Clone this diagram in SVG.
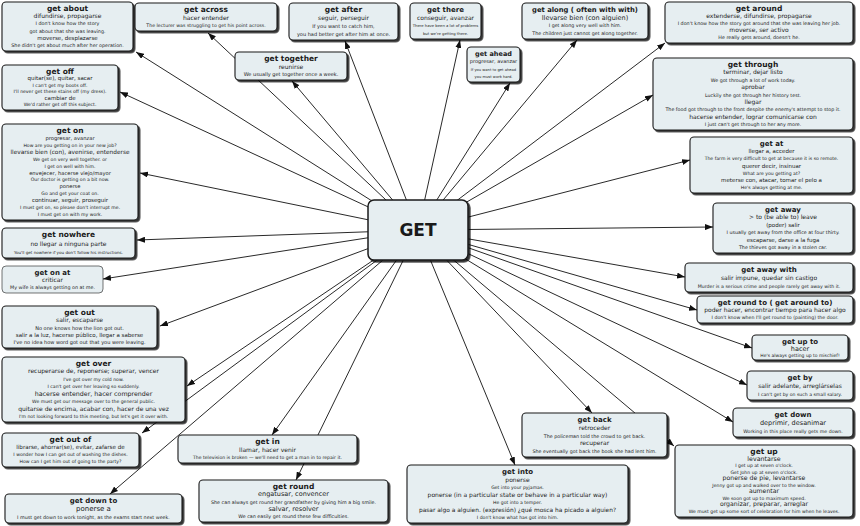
<svg xmlns="http://www.w3.org/2000/svg" width="860" height="526" viewBox="0 0 860 526">
<defs>
<filter id="sh" x="-10%" y="-10%" width="120%" height="130%">
<feDropShadow dx="1.8" dy="1.8" stdDeviation="0.6" flood-color="#000" flood-opacity="0.8"/>
</filter>
<marker id="ah" viewBox="0 0 8 6" refX="8" refY="3" markerWidth="8" markerHeight="6" markerUnits="userSpaceOnUse" orient="auto">
<path d="M0,0 L8,3 L0,6 z" fill="#111"/>
</marker>
</defs>
<style>
.n rect{fill:#e6eef1;stroke:#1a1a1a;stroke-width:1.1;filter:url(#sh)}
.n.thin rect{stroke-width:0.6;filter:none}
text{font-family:"DejaVu Sans",Verdana,sans-serif;text-anchor:middle;fill:#1a1a1a}
.t{font-weight:bold;font-size:7.5px}
.s{font-size:6px}
.c line{stroke:#111;stroke-width:0.9;marker-end:url(#ah)}
#GET rect{fill:#e6eef1;stroke:#1a1a1a;stroke-width:1.5;filter:url(#sh)}
</style>
<rect width="860" height="526" fill="#fff"/>
<g id="connectors" class="c">
<line x1="418" y1="230" x2="136" y2="52"/>
<line x1="418" y1="230" x2="208" y2="33"/>
<line x1="418" y1="230" x2="345" y2="41"/>
<line x1="418" y1="230" x2="292" y2="81"/>
<line x1="418" y1="230" x2="460" y2="40"/>
<line x1="418" y1="230" x2="510" y2="83"/>
<line x1="418" y1="230" x2="577" y2="40"/>
<line x1="418" y1="230" x2="665" y2="43"/>
<line x1="418" y1="230" x2="653" y2="95"/>
<line x1="418" y1="230" x2="690" y2="160"/>
<line x1="418" y1="230" x2="713" y2="227"/>
<line x1="418" y1="230" x2="685" y2="277"/>
<line x1="418" y1="230" x2="697" y2="310"/>
<line x1="418" y1="230" x2="752" y2="348"/>
<line x1="418" y1="230" x2="747" y2="385"/>
<line x1="418" y1="230" x2="733" y2="422"/>
<line x1="418" y1="230" x2="674" y2="446"/>
<line x1="418" y1="230" x2="592" y2="413"/>
<line x1="418" y1="230" x2="515" y2="465"/>
<line x1="418" y1="230" x2="296" y2="480"/>
<line x1="418" y1="230" x2="272" y2="435"/>
<line x1="418" y1="230" x2="110" y2="494"/>
<line x1="418" y1="230" x2="142" y2="433"/>
<line x1="418" y1="230" x2="187" y2="386"/>
<line x1="418" y1="230" x2="160" y2="326"/>
<line x1="418" y1="230" x2="103" y2="279"/>
<line x1="418" y1="230" x2="137" y2="240"/>
<line x1="418" y1="230" x2="140" y2="173"/>
<line x1="418" y1="230" x2="120" y2="92"/>
</g>

<g id="GET">
<rect x="368" y="200" width="100" height="60" rx="6"/>
<text x="418" y="236" style="font-size:17px;font-weight:bold">GET</text>
</g>

<g id="n-about" class="n" font-size="4.8">
<rect x="2" y="2" width="131" height="49" rx="4"/>
<text x="67.5" y="11" class="t">get about</text>
<text x="67.5" y="18.2" class="s">difundirse, propagarse</text>
<text x="67.5" y="25.4">I don't know how the story</text>
<text x="67.5" y="32.6">got about that she was leaving.</text>
<text x="67.5" y="39.8" class="s" style="font-size:5.5px">moverse, desplazarse</text>
<text x="67.5" y="47">She didn't get about much after her operation.</text>
</g>

<g id="n-across" class="n" font-size="4.7">
<rect x="135" y="3" width="142" height="28" rx="4"/>
<text x="206" y="12" class="t">get across</text>
<text x="206" y="19.5" class="s">hacer entender</text>
<text x="206" y="27">The lecturer was struggling to get his point across.</text>
</g>

<g id="n-after" class="n" font-size="5">
<rect x="289" y="3" width="109" height="37" rx="4"/>
<text x="343.5" y="12" class="t">get after</text>
<text x="343.5" y="20" class="s">seguir, perseguir</text>
<text x="343.5" y="28">If you want to catch him,</text>
<text x="343.5" y="36">you had better get after him at once.</text>
</g>

<g id="n-together" class="n" font-size="5">
<rect x="235" y="52" width="112" height="28" rx="4"/>
<text x="291" y="61" class="t">get together</text>
<text x="291" y="68.5" class="s">reunirse</text>
<text x="291" y="76">We usually get together once a week.</text>
</g>

<g id="n-there" class="n" font-size="3.8">
<rect x="410" y="3" width="71" height="36" rx="4"/>
<text x="445.5" y="12" class="t" style="font-size:7px">get there</text>
<text x="445.5" y="19.7" class="s">conseguir, avanzar</text>
<text x="445.5" y="27.3">There have been a lot of problems</text>
<text x="445.5" y="35">but we're getting there.</text>
</g>

<g id="n-ahead" class="n" font-size="3.7">
<rect x="467" y="47" width="53" height="35" rx="4"/>
<text x="493.5" y="56" class="t" style="font-size:6.5px">get ahead</text>
<text x="493.5" y="63.3" class="s" style="font-size:5px">progresar, avanzar</text>
<text x="493.5" y="70.7">If you want to get ahead</text>
<text x="493.5" y="78">you must work hard.</text>
</g>

<g id="n-along" class="n" font-size="4.8">
<rect x="522" y="3" width="126" height="36" rx="4"/>
<text x="585" y="12" class="t" style="font-size:6.8px">get along ( often with with)</text>
<text x="585" y="19.7" class="s" style="font-size:6.5px">llevarse bien (con alguien)</text>
<text x="585" y="27.3">I get along very well with him.</text>
<text x="585" y="35">The children just cannot get along together.</text>
</g>

<g id="n-around" class="n" font-size="4.8">
<rect x="665" y="2" width="188" height="41" rx="4"/>
<text x="759" y="11" class="t">get around</text>
<text x="759" y="18" class="s">extenderse, difundirse, propagarse</text>
<text x="759" y="25">I don't know how the story got around that she was leaving her job.</text>
<text x="759" y="32" class="s">moverse, ser activo</text>
<text x="759" y="39">He really gets around, doesn't he.</text>
</g>

<g id="n-through" class="n" font-size="4.8">
<rect x="653" y="58" width="200" height="72" rx="4"/>
<text x="753" y="67" class="t">get through</text>
<text x="753" y="74.4" class="s">terminar, dejar listo</text>
<text x="753" y="81.75">We got through a lot of work today.</text>
<text x="753" y="89.1" class="s">aprobar</text>
<text x="753" y="96.5">Luckily she got through her history test.</text>
<text x="753" y="103.9" class="s">llegar</text>
<text x="753" y="111.25">The food got through to the front despite the enemy's attempt to stop it.</text>
<text x="753" y="118.6" class="s">hacerse entender, lograr comunicarse con</text>
<text x="753" y="126">I just can't get through to her any more.</text>
</g>

<g id="n-at" class="n" font-size="4.6">
<rect x="690" y="137" width="163" height="56" rx="4"/>
<text x="771.5" y="146" class="t" style="font-size:7px">get at</text>
<text x="771.5" y="153.2" class="s" style="font-size:5.5px">llegar a, acceder</text>
<text x="771.5" y="160.3">The farm is very difficult to get at because it is so remote.</text>
<text x="771.5" y="167.5" class="s" style="font-size:5.5px">querer decir, insinuar</text>
<text x="771.5" y="174.7">What are you getting at?</text>
<text x="771.5" y="181.8" class="s" style="font-size:5.5px">meterse con, atacar, tomar el pelo a</text>
<text x="771.5" y="189">He's always getting at me.</text>
</g>

<g id="n-away" class="n" font-size="4.8">
<rect x="713" y="203" width="140" height="50" rx="4"/>
<text x="783" y="212" class="t" style="font-size:7px">get away</text>
<text x="783" y="219.4" class="s">&gt; to (be able to) leave</text>
<text x="783" y="226.8" class="s" style="font-size:5.5px">(poder) salir</text>
<text x="783" y="234.2">I usually get away from the office at four thirty.</text>
<text x="783" y="241.6" class="s" style="font-size:5.5px">escaparse, darse a la fuga</text>
<text x="783" y="249">The thieves got away in a stolen car.</text>
</g>

<g id="n-awaywith" class="n" font-size="4.7">
<rect x="685" y="263" width="168" height="29" rx="4"/>
<text x="769" y="272" class="t" style="font-size:7px">get away with</text>
<text x="769" y="280" class="s">salir impune, quedar sin castigo</text>
<text x="769" y="288">Murder is a serious crime and people rarely get away with it.</text>
</g>

<g id="n-roundto" class="n" font-size="4.7">
<rect x="697" y="296" width="156" height="27" rx="4"/>
<text x="775" y="305" class="t" style="font-size:7px">get round to ( get around to)</text>
<text x="775" y="312" class="s">poder hacer, encontrar tiempo para hacer algo</text>
<text x="775" y="319">I don't know when I'll get round to (painting) the door.</text>
</g>

<g id="n-upto" class="n" font-size="4.5">
<rect x="752" y="335" width="96" height="25" rx="4"/>
<text x="800" y="343.5" class="t" style="font-size:7px">get up to</text>
<text x="800" y="350.5" class="s" style="font-size:6.5px">hacer</text>
<text x="800" y="356.5">He's always getting up to mischief!</text>
</g>

<g id="n-by" class="n" font-size="4.6">
<rect x="747" y="371" width="106" height="29" rx="4"/>
<text x="800" y="380" class="t" style="font-size:7px">get by</text>
<text x="800" y="388" class="s">salir adelante, arreglárselas</text>
<text x="800" y="396">I can't get by on such a small salary.</text>
</g>

<g id="n-down" class="n" font-size="4.7">
<rect x="733" y="408" width="120" height="29" rx="4"/>
<text x="793" y="417" class="t" style="font-size:7px">get down</text>
<text x="793" y="425" class="s" style="font-size:6.5px">deprimir, desanimar</text>
<text x="793" y="433">Working in this place really gets me down.</text>
</g>

<g id="n-up" class="n" font-size="4.6">
<rect x="675" y="445" width="178" height="72" rx="4"/>
<text x="764" y="454" class="t">get up</text>
<text x="764" y="460.6" class="s" style="font-size:6.3px">levantarse</text>
<text x="764" y="467.1">I get up at seven o'clock.</text>
<text x="764" y="473.7">Get John up at seven o'clock.</text>
<text x="764" y="480.2" class="s" style="font-size:6.2px">ponerse de pie, levantarse</text>
<text x="764" y="486.8">Jenny got up and walked over to the window.</text>
<text x="764" y="493.3" class="s" style="font-size:6.2px">aumentar</text>
<text x="764" y="499.9">We soon got up to maximum speed.</text>
<text x="764" y="506.4" class="s" style="font-size:6.2px">organizar, preparar, arreglar</text>
<text x="764" y="513">We must get up some sort of celebration for him when he leaves.</text>
</g>

<g id="n-back" class="n" font-size="4.8">
<rect x="522" y="413" width="145" height="44" rx="4"/>
<text x="594.5" y="422" class="t" style="font-size:7px">get back</text>
<text x="594.5" y="429.75" class="s">retroceder</text>
<text x="594.5" y="437.5">The policeman told the crowd to get back.</text>
<text x="594.5" y="445.25" class="s">recuperar</text>
<text x="594.5" y="453">She eventually got back the book she had lent him.</text>
</g>

<g id="n-into" class="n" font-size="4.6">
<rect x="407" y="465" width="221" height="58" rx="4"/>
<text x="517.5" y="474" class="t" style="font-size:7px">get into</text>
<text x="517.5" y="481.5" class="s">ponerse</text>
<text x="517.5" y="489">Get into your pyjamas.</text>
<text x="517.5" y="496.5" class="s">ponerse (in a particular state or behave in a particular way)</text>
<text x="517.5" y="504">He got into a temper.</text>
<text x="517.5" y="511.5" class="s" style="font-size:5.9px">pasar algo a alguien. (expresión) ¿qué mosca ha picado a alguien?</text>
<text x="517.5" y="519">I don't know what has got into him.</text>
</g>

<g id="n-in" class="n" font-size="4.6">
<rect x="178" y="435" width="179" height="28" rx="4"/>
<text x="267.5" y="444" class="t">get in</text>
<text x="267.5" y="451.5" class="s">llamar, hacer venir</text>
<text x="267.5" y="459">The television is broken — we'll need to get a man in to repair it.</text>
</g>

<g id="n-round" class="n" font-size="4.8">
<rect x="199" y="480" width="189" height="42" rx="4"/>
<text x="293.5" y="489" class="t">get round</text>
<text x="293.5" y="496.25" class="s" style="font-size:6.5px">engatusar, convencer</text>
<text x="293.5" y="503.5">She can always get round her grandfather by giving him a big smile.</text>
<text x="293.5" y="510.75" class="s" style="font-size:6.5px">salvar, resolver</text>
<text x="293.5" y="518">We can easily get round these few difficulties.</text>
</g>

<g id="n-downto" class="n" font-size="4.8">
<rect x="5" y="494" width="177" height="29" rx="4"/>
<text x="93.5" y="503" class="t" style="font-size:7px">get down to</text>
<text x="93.5" y="511" class="s" style="font-size:7px">ponerse a</text>
<text x="93.5" y="519">I must get down to work tonight, as the exams start next week.</text>
</g>

<g id="n-outof" class="n" font-size="4.6">
<rect x="2" y="433" width="137" height="34" rx="4"/>
<text x="70.5" y="442" class="t">get out of</text>
<text x="70.5" y="449" class="s" style="font-size:5.6px">librarse, ahorrar(se), evitar, zafarse de</text>
<text x="70.5" y="456">I wonder how I can get out of washing the dishes.</text>
<text x="70.5" y="463">How can I get him out of going to the party?</text>
</g>

<g id="n-over" class="n" font-size="4.6">
<rect x="2" y="357" width="183" height="65" rx="4"/>
<text x="93.5" y="366" class="t">get over</text>
<text x="93.5" y="373.4" class="s">recuperarse de, reponerse; superar, vencer</text>
<text x="93.5" y="380.9">I've got over my cold now.</text>
<text x="93.5" y="388.3">I can't get over her leaving so suddenly.</text>
<text x="93.5" y="395.7" class="s" style="font-size:6.3px">hacerse entender, hacer comprender</text>
<text x="93.5" y="403.1">We must get our message over to the general public.</text>
<text x="93.5" y="410.6" class="s">quitarse de encima, acabar con, hacer de una vez</text>
<text x="93.5" y="418">I'm not looking forward to this meeting, but let's get it over with.</text>
</g>

<g id="n-out" class="n" font-size="5">
<rect x="2" y="306" width="155" height="42" rx="4"/>
<text x="79.5" y="315" class="t">get out</text>
<text x="79.5" y="322.25" class="s">salir, escaparse</text>
<text x="79.5" y="329.5">No one knows how the lion got out.</text>
<text x="79.5" y="336.75" class="s" style="font-size:5.5px">salir a la luz, hacerse público, llegar a saberse</text>
<text x="79.5" y="344">I've no idea how word got out that you were leaving.</text>
</g>

<g id="n-onat" class="n thin" font-size="4.8">
<rect x="2" y="266" width="101" height="27" rx="4"/>
<text x="52.5" y="275" class="t" style="font-size:7px">get on at</text>
<text x="52.5" y="282" class="s">criticar</text>
<text x="52.5" y="289">My wife is always getting on at me.</text>
</g>

<g id="n-nowhere" class="n" font-size="4.1">
<rect x="2" y="228" width="133" height="30" rx="4"/>
<text x="68.5" y="237" class="t">get nowhere</text>
<text x="68.5" y="245.5" class="s">no llegar a ninguna parte</text>
<text x="68.5" y="254">You'll get nowhere if you don't follow his instructions.</text>
</g>

<g id="n-on" class="n" font-size="4.6">
<rect x="2" y="124" width="136" height="96" rx="4"/>
<text x="70" y="133" class="t">get on</text>
<text x="70" y="139.9" class="s" style="font-size:5.2px">progresar, avanzar</text>
<text x="70" y="146.8">How are you getting on in your new job?</text>
<text x="70" y="153.75" class="s" style="font-size:5.8px">llevarse bien (con), avenirse, entenderse</text>
<text x="70" y="160.7">We get on very well together. or</text>
<text x="70" y="167.6">I get on well with him.</text>
<text x="70" y="174.5" class="s" style="font-size:5.2px">envejecer, hacerse viejo/mayor</text>
<text x="70" y="181.4">Our doctor is getting on a bit now.</text>
<text x="70" y="188.3" class="s" style="font-size:5.2px">ponerse</text>
<text x="70" y="195.25">Go and get your coat on.</text>
<text x="70" y="202.2" class="s" style="font-size:5.5px">continuar, seguir, proseguir</text>
<text x="70" y="209.1">I must get on, so please don't interrupt me.</text>
<text x="70" y="216">I must get on with my work.</text>
</g>

<g id="n-off" class="n" font-size="4.6">
<rect x="2" y="65" width="116" height="45" rx="4"/>
<text x="60" y="74" class="t">get off</text>
<text x="60" y="80.4" class="s" style="font-size:5.5px">quitar(se), quitar, sacar</text>
<text x="60" y="86.8">I can't get my boots off.</text>
<text x="60" y="93.2">I'll never get these stains off (my dress).</text>
<text x="60" y="99.6" class="s" style="font-size:5.5px">cambiar de</text>
<text x="60" y="106">We'd rather get off this subject.</text>
</g>
</svg>
